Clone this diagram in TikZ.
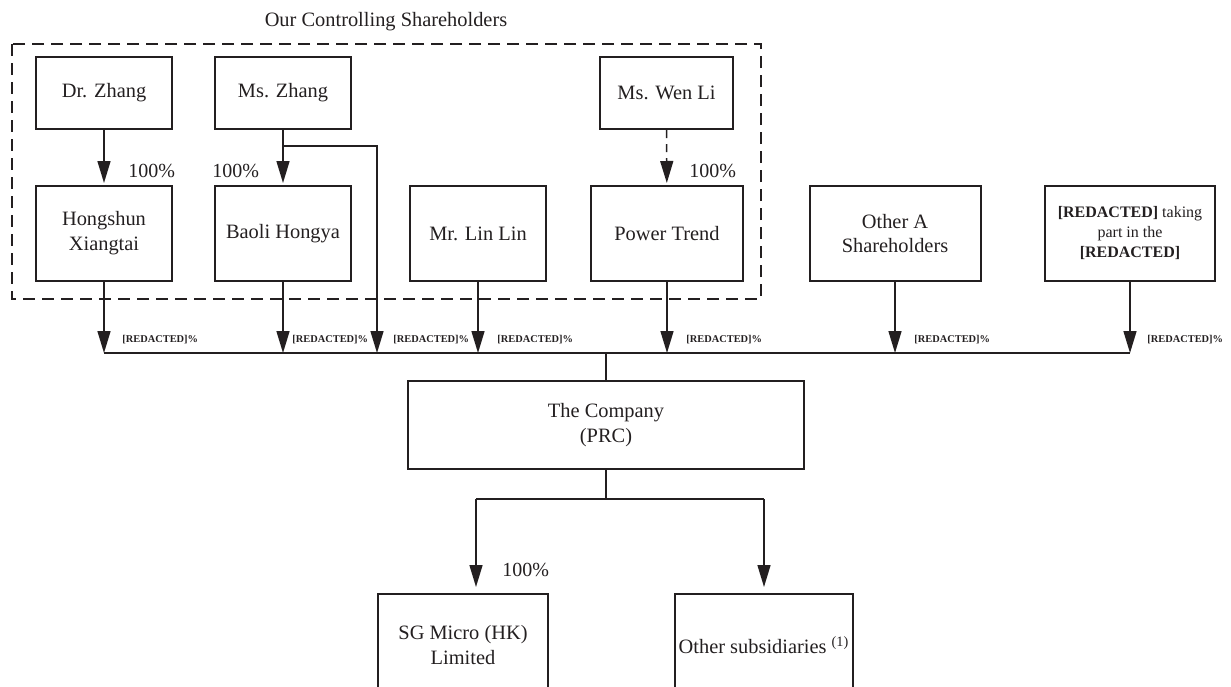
\documentclass[tikz,border=0pt]{standalone}
\usepackage{fontspec}
\setmainfont{Liberation Serif}
\usetikzlibrary{arrows.meta,positioning}
\definecolor{ink}{HTML}{231F20}
\tikzset{
  box/.style={rectangle, draw=ink, line width=1pt, text=ink, align=center, inner sep=2pt,
    font=\fontsize{10.2}{12.4}\selectfont},
  topbox/.style={box, minimum width=68pt, minimum height=36pt},
  midbox/.style={box, minimum width=68pt, minimum height=47.5pt},
  group/.style={draw=ink, line width=1pt, dash pattern=on 6pt off 3.5pt},
  line/.style={draw=ink, line width=0.75pt},
  arr/.style={line, -{Triangle[length=11pt,width=6.5pt]}},
  pct/.style={anchor=west, inner sep=0pt, text=ink, font=\fontsize{10}{12}\selectfont},
  redact/.style={anchor=west, inner sep=0pt, text=ink, font=\fontsize{5.2}{6}\selectfont\bfseries},
}

\begin{document}
\begin{tikzpicture}[x=0.5pt,y=-0.5pt]
\path[use as bounding box] (0,0) rectangle (1231,686);
\clip (0,0) rectangle (1231,686);

% controlling shareholders
\node[text=ink, font=\fontsize{10.2}{12}\selectfont] (title) at (386,22) {Our Controlling Shareholders};
\draw[group] (12,44) rectangle (761,299);

\node[topbox] (drz) at (104,93) {Dr. Zhang};
\node[topbox] (msz) at (283,93) {Ms. Zhang};
\node[topbox, minimum width=66.5pt] (wenli) at (666.5,93) {Ms. Wen Li};

\node[midbox] (hong) at (104,233.5) {Hongshun\\Xiangtai};
\node[midbox] (baoli) at (283,233.5) {Baoli Hongya};
\node[midbox] (linlin) at (478,233.5) {Mr. Lin Lin};
\node[midbox, minimum width=76pt] (power) at (667,233.5) {Power Trend};
\node[midbox, minimum width=85.5pt] (othera) at (895,233.5) {Other A\\Shareholders};
\node[midbox, minimum width=85pt, font=\fontsize{8}{10}\selectfont] (redbox) at (1130,233.5)
  {\textbf{[REDACTED]} taking\\part in the\\\textbf{[REDACTED]}};

\draw[arr, shorten >=1pt] (drz) -- (hong);
\draw[arr, shorten >=1pt] (msz) -- (baoli);
\draw[arr, shorten >=1pt, dash pattern=on 4pt off 3pt] (wenli) -- (power);
\node[pct] (p1) at (128,171) {100\%};
\node[pct] (p2) at (212,171) {100\%};
\node[pct] (p3) at (689,171) {100\%};

% bus to the company
\coordinate (bus) at (0,353);
\coordinate (mszturn) at (283,146);
\coordinate (lz) at (377,353);
\draw[arr] (mszturn) -| (lz);
\draw[arr] (hong) -- (hong |- bus);
\draw[arr] (baoli) -- (baoli |- bus);
\draw[arr] (linlin) -- (linlin |- bus);
\draw[arr] (power) -- (power |- bus);
\draw[arr] (othera) -- (othera |- bus);
\draw[arr] (redbox) -- (redbox |- bus);
\draw[line] (hong |- bus) -- (redbox |- bus);

\node[redact] (r1) at (122,340) {[REDACTED]\%};
\node[redact] (r2) at (292,340) {[REDACTED]\%};
\node[redact] (r3) at (393,340) {[REDACTED]\%};
\node[redact] (r4) at (497,340) {[REDACTED]\%};
\node[redact] (r5) at (686,340) {[REDACTED]\%};
\node[redact] (r6) at (914,340) {[REDACTED]\%};
\node[redact] (r7) at (1147,340) {[REDACTED]\%};

\node[box, minimum width=198pt, minimum height=44pt] (company) at (606,425) {The Company\\(PRC)};
\draw[line] (company |- bus) -- (company);

% subsidiaries
\node[box, minimum width=85pt, minimum height=51pt] (sgm) at (463,645) {SG Micro (HK)\\Limited};
\node[box, minimum width=86pt, minimum height=51pt] (othsub) at (764,645) {Other subsidiaries \textsuperscript{(1)}};
\coordinate (sl) at (476,499);
\coordinate (sr) at (764,499);
\draw[line] (company) -- (company |- sl);
\draw[line] (sl) -- (sr);
\draw[arr, shorten >=3pt] (sl) -- (sl |- sgm.north);
\draw[arr, shorten >=3pt] (sr) -- (othsub);
\node[pct] (p4) at (502,570) {100\%};
\end{tikzpicture}
\end{document}
